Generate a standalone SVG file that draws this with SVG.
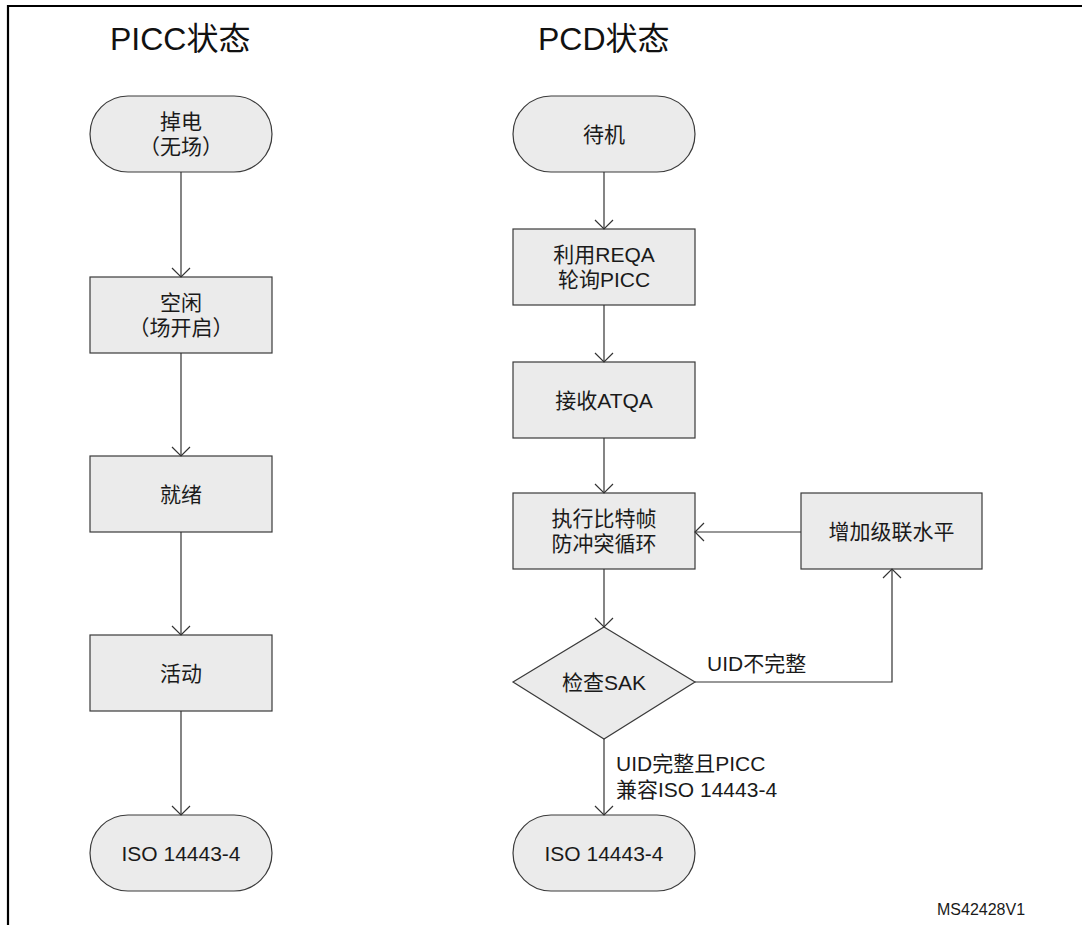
<svg xmlns="http://www.w3.org/2000/svg" width="1082" height="925" viewBox="0 0 1082 925">
  <style>
    .t { font-family: "Liberation Sans", "Noto Sans CJK SC", sans-serif; font-size: 21px; fill: #1a1a1a; }
    .c { text-anchor: middle; }
    .h { font-family: "Liberation Sans", "Noto Sans CJK SC", sans-serif; font-size: 32px; fill: #111; }
    .small { font-family: "Liberation Sans", "Noto Sans CJK SC", sans-serif; font-size: 16px; fill: #1a1a1a; }
    .shape { fill: #ebebeb; stroke: #3a3a3a; stroke-width: 1.2; }
    .wire { fill: none; stroke: #333; stroke-width: 1.2; }
  </style>
  <defs>
    <marker id="arr" viewBox="-10 -10 12 20" markerWidth="12" markerHeight="20" refX="0" refY="0" orient="auto" markerUnits="userSpaceOnUse">
      <path d="M-9,-9 L0,0 L-9,9" fill="none" stroke="#333" stroke-width="1.2"/>
    </marker>
  </defs>

  <rect width="1082" height="925" fill="#fff"/>

  <!-- frame -->
  <path d="M8,925 V6 H1082" fill="none" stroke="#000" stroke-width="2.2"/>

  <!-- column headings -->
  <text class="h" x="110" y="50">PICC状态</text>
  <text class="h" x="538" y="50">PCD状态</text>

  <!-- PICC column -->
  <g id="picc-power-off">
    <rect class="shape" x="90" y="96" width="182" height="76" rx="38" ry="38"/>
    <text class="t c" x="181" y="129">掉电</text>
    <text class="t c" x="181" y="154">（无场）</text>
  </g>
  <g id="picc-idle">
    <rect class="shape" x="90" y="277" width="182" height="76"/>
    <text class="t c" x="181" y="310">空闲</text>
    <text class="t c" x="181" y="335">（场开启）</text>
  </g>
  <g id="picc-ready">
    <rect class="shape" x="90" y="456" width="182" height="76"/>
    <text class="t c" x="181" y="501.5">就绪</text>
  </g>
  <g id="picc-active">
    <rect class="shape" x="90" y="635" width="182" height="76"/>
    <text class="t c" x="181" y="680.5">活动</text>
  </g>
  <g id="picc-iso">
    <rect class="shape" x="90" y="815" width="182" height="76" rx="38" ry="38"/>
    <text class="t c" x="181" y="860.5">ISO 14443-4</text>
  </g>

  <!-- PCD column -->
  <g id="pcd-standby">
    <rect class="shape" x="513" y="96" width="182" height="76" rx="38" ry="38"/>
    <text class="t c" x="604" y="141.5">待机</text>
  </g>
  <g id="pcd-reqa">
    <rect class="shape" x="513" y="229" width="182" height="76"/>
    <text class="t c" x="604" y="262">利用REQA</text>
    <text class="t c" x="604" y="287">轮询PICC</text>
  </g>
  <g id="pcd-atqa">
    <rect class="shape" x="513" y="362" width="182" height="76"/>
    <text class="t c" x="604" y="407.5">接收ATQA</text>
  </g>
  <g id="pcd-anticollision">
    <rect class="shape" x="513" y="493" width="182" height="76"/>
    <text class="t c" x="604" y="526">执行比特帧</text>
    <text class="t c" x="604" y="551">防冲突循环</text>
  </g>
  <g id="pcd-cascade">
    <rect class="shape" x="801" y="493" width="181" height="76"/>
    <text class="t c" x="891.5" y="539">增加级联水平</text>
  </g>
  <g id="pcd-check-sak">
    <polygon class="shape" points="604,627 695,682 604,739 513,682"/>
    <text class="t c" x="604" y="689.5">检查SAK</text>
  </g>
  <g id="pcd-iso">
    <rect class="shape" x="513" y="815" width="182" height="76" rx="38" ry="38"/>
    <text class="t c" x="604" y="860.5">ISO 14443-4</text>
  </g>

  <!-- connectors -->
  <g id="connectors">
    <path class="wire" d="M181,172 V277" marker-end="url(#arr)"/>
    <path class="wire" d="M181,353 V456" marker-end="url(#arr)"/>
    <path class="wire" d="M181,532 V635" marker-end="url(#arr)"/>
    <path class="wire" d="M181,711 V815" marker-end="url(#arr)"/>

    <path class="wire" d="M604,172 V229" marker-end="url(#arr)"/>
    <path class="wire" d="M604,305 V362" marker-end="url(#arr)"/>
    <path class="wire" d="M604,438 V493" marker-end="url(#arr)"/>
    <path class="wire" d="M604,569 V627" marker-end="url(#arr)"/>
    <path class="wire" d="M604,739 V815" marker-end="url(#arr)"/>
    <path class="wire" d="M801,532 H695" marker-end="url(#arr)"/>
    <path class="wire" d="M695,682 H892 V569" marker-end="url(#arr)"/>

    <text class="t" x="707" y="671">UID不完整</text>
    <text class="t" x="616" y="771">UID完整且PICC</text>
    <text class="t" x="616" y="797">兼容ISO 14443-4</text>
  </g>

  <text class="small" x="937" y="915">MS42428V1</text>
</svg>
